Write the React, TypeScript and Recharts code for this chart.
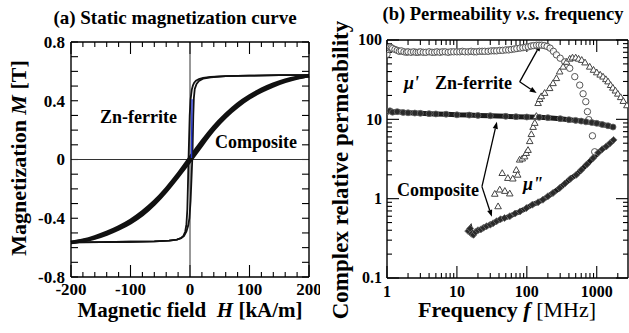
import React from "react";
import {
  LineChart,
  ComposedChart,
  Line,
  Scatter,
  XAxis,
  YAxis,
  ReferenceLine
} from "recharts";

const SERIF = "'Liberation Serif', 'DejaVu Serif', serif";

// (a) static magnetization: [H kA/m, M T]
const znFerriteDown: [number, number][] = [
  [200, 0.575], [150, 0.574], [100, 0.571], [60, 0.567], [35, 0.562], [22, 0.556],
  [15, 0.548], [10, 0.537], [7, 0.523], [5, 0.505], [3, 0.475], [1, 0.41],
  [-0.5, 0.3], [-1.5, 0.15], [-2.5, 0], [-3.5, -0.18], [-4.5, -0.34], [-6, -0.44],
  [-8, -0.49], [-11, -0.52], [-15, -0.535], [-22, -0.545], [-35, -0.552],
  [-60, -0.557], [-100, -0.56], [-150, -0.562], [-200, -0.564]
];
const znFerriteUp: [number, number][] = [
  [-200, -0.564], [-150, -0.562], [-100, -0.56], [-60, -0.557], [-35, -0.552],
  [-22, -0.545], [-15, -0.535], [-10, -0.52], [-6, -0.49], [-3, -0.45], [-1, -0.4],
  [1, -0.28], [2.5, -0.13], [3.5, -0.03], [4, 0.02], [4.5, 0.1], [5.5, 0.3],
  [6.5, 0.42], [8, 0.48], [11, 0.515], [15, 0.535], [22, 0.55], [35, 0.56],
  [60, 0.567], [100, 0.571], [150, 0.574], [200, 0.575]
];
const znFerriteInitial: [number, number][] = [[2.5, 0.01], [2.8, 0.15], [3.1, 0.3], [3.4, 0.41]];
const compositeUp: [number, number][] = [
  [-200, -0.565], [-180, -0.553], [-160, -0.535], [-140, -0.508], [-120, -0.473],
  [-100, -0.43], [-80, -0.375], [-60, -0.303], [-40, -0.215], [-20, -0.115], [0, -0.01],
  [20, 0.1], [40, 0.205], [60, 0.292], [80, 0.362], [100, 0.42], [120, 0.465],
  [140, 0.502], [160, 0.532], [180, 0.555], [200, 0.57]
];
const compositeDown: [number, number][] = [
  [200, 0.57], [180, 0.558], [160, 0.54], [140, 0.512], [120, 0.477], [100, 0.432],
  [80, 0.377], [60, 0.306], [40, 0.222], [20, 0.122], [0, 0.012], [-20, -0.1],
  [-40, -0.2], [-60, -0.287], [-80, -0.357], [-100, -0.415], [-120, -0.46],
  [-140, -0.497], [-160, -0.527], [-180, -0.55], [-200, -0.565]
];

const hDomain = [-200, 200];
const mDomain = [-0.8, 0.8];
const hTicks = [-200, -180, -160, -140, -120, -100, -80, -60, -40, -20, 0, 20, 40, 60, 80, 100, 120, 140, 160, 180, 200];
const hLabels = [-200, -100, 0, 100, 200];
const mTicks = [-0.8, -0.7, -0.6, -0.5, -0.4, -0.3, -0.2, -0.1, 0, 0.1, 0.2, 0.3, 0.4, 0.5, 0.6, 0.7, 0.8];
const mLabels = [-0.8, -0.4, 0, 0.4, 0.8];

// (b) permeability: [f MHz, value]
const znMuReal: [number, number][] = [
  [1, 66], [1.03, 76], [1.06, 80], [1.1, 82], [1.15, 80], [1.2, 78], [1.3, 76], [1.4, 74],
  [1.5, 72], [1.6, 73], [1.75, 71], [1.9, 70], [2, 71], [2.2, 70], [2.4, 71], [2.6, 70],
  [2.8, 70], [3, 71], [3.3, 70], [3.6, 70], [4, 71], [4.4, 70], [4.8, 70], [5.2, 71],
  [5.7, 70], [6.2, 71], [6.8, 71], [7.5, 70], [8.2, 71], [9, 71], [10, 71], [11, 71],
  [12, 72], [13, 71], [14.5, 71], [16, 72], [17.5, 71], [19, 71], [21, 72], [23, 72],
  [25, 72], [28, 72], [31, 73], [34, 73], [37, 73], [41, 74], [45, 74], [50, 75],
  [55, 75], [60, 76], [66, 77], [72, 78], [80, 79], [88, 80], [96, 81], [105, 82],
  [115, 84], [125, 85], [138, 86], [150, 86], [163, 86], [178, 85], [195, 83],
  [215, 79], [240, 72], [265, 65], [300, 59], [349, 53], [411, 44], [485, 34.5],
  [571, 27], [638, 21], [697, 16.7], [736, 12.5], [769, 9.9], [868, 6.2], [935, 3.9]
];
const znMuImag: [number, number][] = [
  [34.8, 1.15], [38.8, 0.8], [41, 1.3], [44.5, 2.1], [48.5, 1.25], [53.5, 1.82],
  [57, 1.16], [63, 1.79], [70.7, 2.3], [74, 2.0], [79, 3.1], [86, 3.2], [93, 3.4],
  [98, 3.76], [104, 4.1], [110, 5.3], [116, 6.5], [123, 8], [130, 9], [137, 11],
  [145, 16], [153, 18], [161, 19.5], [180, 21.5], [212, 24.7], [237, 28.5], [265, 33],
  [295, 40], [330, 46], [370, 53], [411, 58], [450, 60], [500, 60], [550, 58],
  [610, 56], [680, 52], [794, 46], [900, 42], [1000, 39], [1120, 36.5], [1230, 34.5],
  [1350, 32], [1450, 30], [1580, 27], [1700, 25], [1850, 23], [2000, 21], [2200, 19],
  [2400, 17], [2700, 15]
];
const compMuReal: [number, number][] = [
  [1, 12.5], [1.1, 12.8], [1.2, 12.3], [1.4, 12.5], [1.7, 12.2], [2, 12.1], [2.5, 12],
  [3, 11.9], [4, 11.8], [5, 11.7], [7, 11.6], [10, 11.4], [15, 11.3], [20, 11.2],
  [30, 11.1], [50, 10.9], [70, 10.8], [100, 10.7], [150, 10.6], [200, 10.5],
  [300, 10.2], [400, 9.9], [500, 9.7], [600, 9.5], [700, 9.3], [850, 9.1], [1000, 8.9],
  [1200, 8.6], [1450, 8.3], [1710, 8.0]
];
const compMuImag: [number, number][] = [
  [14.5, 0.39], [15.5, 0.42], [16.2, 0.36], [17.2, 0.35], [18.5, 0.38], [20, 0.4],
  [22, 0.41], [24, 0.43], [26.6, 0.45], [30, 0.47], [33, 0.49], [37, 0.52], [42, 0.55],
  [48, 0.57], [57, 0.6], [68, 0.65], [80, 0.69], [98.6, 0.76], [120, 0.84], [145, 0.9],
  [170, 0.97], [200, 1.07], [237, 1.18], [295, 1.36], [350, 1.55], [420, 1.78],
  [510, 2.0], [600, 2.3], [720, 2.7], [888, 3.25], [1050, 3.8], [1200, 4.2],
  [1370, 4.55], [1550, 5.0], [1740, 5.5]
];

const fDomain = [1, 2800];
const muDomain = [0.1, 100];
const fTicks = [1, 2, 3, 4, 5, 6, 7, 8, 9, 10, 20, 30, 40, 50, 60, 70, 80, 90, 100, 200, 300, 400, 500, 600, 700, 800, 900, 1000, 2000];
const fLabels = [1, 10, 100, 1000];
const muTicks = [0.1, 0.2, 0.3, 0.4, 0.5, 0.6, 0.7, 0.8, 0.9, 1, 2, 3, 4, 5, 6, 7, 8, 9, 10, 20, 30, 40, 50, 60, 70, 80, 90, 100];
const muLabels = [0.1, 1, 10, 100];

// annotation arrows [from, to] in data units
const znArrows: [number, number][][] = [[[79, 29.7], [158, 89]], [[79, 29.7], [138, 21.4]]];
const compArrows: [number, number][][] = [[[22.8, 1.42], [37.3, 9.3]], [[22.8, 1.42], [31.6, 0.59]]];

const toHM = (pts: [number, number][]) => pts.map(([h, m]) => ({ h, m }));
const toFV = (pts: [number, number][]) => pts.map(([f, v]) => ({ f, v }));

const has = (list: number[], v: number) => list.some((t) => Math.abs(t - v) < 1e-9);

// tick label only; (x, y) sits on the plot edge (tickSize 0, tickMargin 0)
const labelTick = (side: "left" | "bottom", labels: number[], fontSize: number, gap: number) => (props: any) => {
  const x = Number(props.x);
  const y = Number(props.y);
  const v = Number(props.payload.value);
  if (!has(labels, v)) return <g />;
  return side === "left" ? (
    <text x={x - gap} y={y + fontSize * 0.34} textAnchor="end" fontFamily={SERIF} fontWeight={700} fontSize={fontSize} fill="#000">{String(v)}</text>
  ) : (
    <text x={x} y={y + gap} textAnchor="middle" fontFamily={SERIF} fontWeight={700} fontSize={fontSize} fill="#000">{String(v)}</text>
  );
};

// inward tick marks: a frame-to-frame segment at the tick value, drawn only as two stubs
const Stubs = (len: number) => (props: any) => {
  const { x1, y1, x2, y2 } = props;
  const vertical = Math.abs(x2 - x1) < Math.abs(y2 - y1);
  const ux = vertical ? 0 : Math.sign(x2 - x1);
  const uy = vertical ? Math.sign(y2 - y1) : 0;
  return (
    <g>
      <line x1={x1} y1={y1} x2={x1 + ux * len} y2={y1 + uy * len} stroke="#000" strokeWidth={1.1} />
      <line x1={x2} y1={y2} x2={x2 - ux * len} y2={y2 - uy * len} stroke="#000" strokeWidth={1.1} />
    </g>
  );
};

const xTickMarks = (ticks: number[], major: number[], yDom: number[], longLen: number, shortLen: number) =>
  ticks.map((t) => (
    <ReferenceLine
      key={`xt-${t}`}
      segment={[{ x: t, y: yDom[0] }, { x: t, y: yDom[1] }]}
      ifOverflow="visible"
      shape={Stubs(has(major, t) ? longLen : shortLen)}
    />
  ));
const yTickMarks = (ticks: number[], major: number[], xDom: number[], longLen: number, shortLen: number) =>
  ticks.map((t) => (
    <ReferenceLine
      key={`yt-${t}`}
      segment={[{ x: xDom[0], y: t }, { x: xDom[1], y: t }]}
      ifOverflow="visible"
      shape={Stubs(has(major, t) ? longLen : shortLen)}
    />
  ));

const Arrow = (props: any) => {
  const { x1, y1, x2, y2 } = props;
  const a = Math.atan2(y2 - y1, x2 - x1);
  const L = 7, W = 2.6;
  const bx = x2 - L * Math.cos(a);
  const by = y2 - L * Math.sin(a);
  const pts = `${x2},${y2} ${bx - W * Math.sin(a)},${by + W * Math.cos(a)} ${bx + W * Math.sin(a)},${by - W * Math.cos(a)}`;
  return (
    <g>
      <line x1={x1} y1={y1} x2={bx} y2={by} stroke="#000" strokeWidth={1.3} />
      <polygon points={pts} fill="#000" />
    </g>
  );
};

const openCircle = (p: any) => (
  <circle cx={p.cx} cy={p.cy} r={3.2} fill="#fff" fillOpacity={0.7} stroke="#555" strokeWidth={1} />
);
const openTriangle = (p: any) => (
  <path
    d={`M${p.cx},${p.cy - 3.4}L${p.cx + 3.3},${p.cy + 2.4}L${p.cx - 3.3},${p.cy + 2.4}Z`}
    fill="#fff"
    stroke="#444"
    strokeWidth={1}
  />
);
const darkCircle = (p: any) => (
  <circle key={`dc-${p.index}`} cx={p.cx} cy={p.cy} r={3} fill="#2a2a2a" stroke="#6a6a6a" strokeWidth={0.8} />
);
const darkDiamond = (p: any) => (
  <path
    key={`dd-${p.index}`}
    d={`M${p.cx},${p.cy - 3.5}L${p.cx + 3.5},${p.cy}L${p.cx},${p.cy + 3.5}L${p.cx - 3.5},${p.cy}Z`}
    fill="#2a2a2a"
    stroke="#707070"
    strokeWidth={0.8}
  />
);

const axisLine = { stroke: "#000", strokeWidth: 1.4 };

// axes are 1px thick so recharts still draws them
const MagnetizationChart = () => (
  <LineChart width={320} height={333} margin={{ top: 41, right: 10, bottom: 55, left: 70 }}>
    <XAxis
      dataKey="h" type="number" domain={hDomain} ticks={hTicks} interval={0}
      height={1} tickSize={0} tickMargin={0} tickLine={false} axisLine={axisLine}
      tick={labelTick("bottom", hLabels, 17, 18)}
    />
    <XAxis xAxisId="top" orientation="top" type="number" domain={hDomain} height={1} tickLine={false} tick={false} axisLine={axisLine} />
    <YAxis
      dataKey="m" type="number" domain={mDomain} ticks={mTicks} interval={0}
      width={1} tickSize={0} tickMargin={0} tickLine={false} axisLine={axisLine}
      tick={labelTick("left", mLabels, 17, 6)}
    />
    <YAxis yAxisId="right" orientation="right" type="number" domain={mDomain} width={1} tickLine={false} tick={false} axisLine={axisLine} />
    {xTickMarks(hTicks, hLabels, mDomain, 12, 5)}
    {yTickMarks(mTicks, mTicks, hDomain, 7, 7)}
    <ReferenceLine x={0} stroke="#333" strokeWidth={1} />
    <ReferenceLine y={0} stroke="#333" strokeWidth={1} />
    <Line data={toHM(compositeUp)} dataKey="m" type="natural" stroke="#111" strokeWidth={3.6} dot={false} isAnimationActive={false} />
    <Line data={toHM(compositeDown)} dataKey="m" type="natural" stroke="#111" strokeWidth={3.6} dot={false} isAnimationActive={false} />
    <Line data={toHM(znFerriteDown)} dataKey="m" type="linear" stroke="#111" strokeWidth={1.8} dot={false} isAnimationActive={false} />
    <Line data={toHM(znFerriteUp)} dataKey="m" type="linear" stroke="#111" strokeWidth={1.8} dot={false} isAnimationActive={false} />
    <Line data={toHM(znFerriteInitial)} dataKey="m" type="linear" stroke="#2233cc" strokeWidth={1.4} dot={false} isAnimationActive={false} />
  </LineChart>
);

const logX = { type: "number" as const, scale: "log" as const, domain: fDomain, allowDataOverflow: true, height: 1 };
const logY = { type: "number" as const, scale: "log" as const, domain: muDomain, allowDataOverflow: true, width: 1 };

const PermeabilityChart = () => (
  <ComposedChart width={311} height={333} margin={{ top: 39, right: 2, bottom: 54, left: 66 }}>
    <XAxis
      dataKey="f" {...logX} ticks={fTicks} interval={0} tickSize={0} tickMargin={0} tickLine={false} axisLine={axisLine}
      tick={labelTick("bottom", fLabels, 16, 19)}
    />
    <XAxis xAxisId="top" orientation="top" {...logX} tickLine={false} tick={false} axisLine={axisLine} />
    <YAxis
      dataKey="v" {...logY} ticks={muTicks} interval={0} tickSize={0} tickMargin={0} tickLine={false} axisLine={axisLine}
      tick={labelTick("left", muLabels, 16, 5)}
    />
    <YAxis yAxisId="right" orientation="right" {...logY} tickLine={false} tick={false} axisLine={axisLine} />
    {xTickMarks(fTicks, fLabels, muDomain, 12, 5)}
    {yTickMarks(muTicks, muLabels, fDomain, 12, 5)}
    <Scatter data={toFV(znMuReal)} shape={openCircle} isAnimationActive={false} />
    <Scatter data={toFV(znMuImag)} shape={openTriangle} isAnimationActive={false} />
    <Line data={toFV(compMuReal)} dataKey="v" type="linear" stroke="#1c1c1c" strokeWidth={5} dot={darkCircle} isAnimationActive={false} />
    <Line data={toFV(compMuImag)} dataKey="v" type="linear" stroke="#1c1c1c" strokeWidth={5} dot={darkDiamond} isAnimationActive={false} />
    {[...znArrows, ...compArrows].map(([[fx, fy], [tx, ty]], i) => (
      <ReferenceLine key={`arrow-${i}`} segment={[{ x: fx, y: fy }, { x: tx, y: ty }]} shape={Arrow} />
    ))}
  </ComposedChart>
);

const T = (props: any) => <text fontFamily={SERIF} fontWeight={700} fill="#000" {...props} />;

const Labels = () => (
  <svg width={629} height={333} style={{ position: "absolute", left: 0, top: 0, pointerEvents: "none" }}>
    <T x={175} y={24} textAnchor="middle" fontSize={19}>(a) Static magnetization curve</T>
    <T x={503} y={20} textAnchor="middle" fontSize={18.5}>
      (b) Permeability <tspan fontStyle="italic">v.s.</tspan> frequency
    </T>
    <T transform="translate(26,158) rotate(-90)" textAnchor="middle" fontSize={22}>
      Magnetization <tspan fontStyle="italic">M</tspan> [T]
    </T>
    <T x={190} y={317} textAnchor="middle" xmlSpace="preserve" fontSize={21}>
      {"Magnetic field  "}<tspan fontStyle="italic">H</tspan>{" [kA/m]"}
    </T>
    <T transform="translate(348,170) rotate(-90)" textAnchor="middle" fontSize={23}>
      Complex relative permeability
    </T>
    <T x={507} y={317} textAnchor="middle" xmlSpace="preserve" fontSize={22}>
      {"Frequency "}<tspan fontStyle="italic">f</tspan>{" "}<tspan fontWeight={400}>[MHz]</tspan>
    </T>
    <T x={100} y={123} fontSize={18}>Zn-ferrite</T>
    <T x={215} y={148} fontSize={18}>Composite</T>
    <T x={404} y={89} fontStyle="italic" fontSize={18}>μ'</T>
    <T x={435} y={89} fontSize={18}>Zn-ferrite</T>
    <T x={397} y={196} fontSize={18}>Composite</T>
    <T x={523} y={190} fontStyle="italic" fontSize={18}>μ"</T>
  </svg>
);

export default function App() {
  return (
    <div style={{ position: "absolute", left: 0, top: 0, width: 629, height: 333, background: "#fff", overflow: "hidden" }}>
      <div style={{ position: "absolute", left: 0, top: 0 }}>
        <MagnetizationChart />
      </div>
      <div style={{ position: "absolute", left: 320, top: 0 }}>
        <PermeabilityChart />
      </div>
      <Labels />
    </div>
  );
}
